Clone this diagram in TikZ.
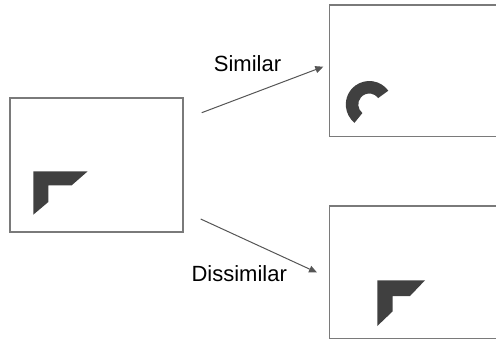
\documentclass[tikz,border=0pt]{standalone}
\usepackage{fontspec}
\setmainfont{Liberation Sans}
\usetikzlibrary{arrows.meta,calc}
\definecolor{frame}{HTML}{7A7A7A}
\definecolor{shape}{HTML}{404040}
\definecolor{link}{HTML}{555555}
\tikzset{
  panel/.style={draw=frame, line width=1.2bp},
  glyph/.style={fill=shape, draw=none},
  relation/.style={draw=link, line width=1bp, -{Triangle[length=8bp,width=7bp]}},
  tag/.style={anchor=base, inner sep=0pt, font=\fontsize{22bp}{26bp}\selectfont}
}
\begin{document}
\begin{tikzpicture}[x=1bp, y=-1bp]
  \useasboundingbox (0,0) rectangle (496,341);
  \clip (0,0) rectangle (496,341);

  % query image
  \draw[panel] (10,98) rectangle (183,232);
  \coordinate (qbox) at (96.5,165);
  \fill[glyph] (33.3,171.3) -- (87.7,171.3) -- (71.7,185.3) -- (48.3,185.3)
               -- (48.3,202) -- (33.3,214.7) -- cycle;

  % similar candidate (runs past the right edge)
  \draw[panel] (329.3,5) rectangle (520,136.7);
  \coordinate (c) at (369.3,104.5);
  \fill[glyph] ($(c)+(-36:23.5)$) arc[start angle=-36, end angle=-231, radius=23.5]
               -- ($(c)+(-231:11)$) arc[start angle=-231, end angle=-36, radius=11] -- cycle;

  % dissimilar candidate (runs past the right edge)
  \draw[panel] (329.3,206) rectangle (520,338.3);
  \fill[glyph] (377.3,280.3) -- (425,280.3) -- (410,296) -- (392.7,296)
               -- (392.7,311.3) -- (377.3,326) -- cycle;

  % connectors
  \coordinate (s1) at (201.7,112.7);
  \coordinate (e1) at (323.3,66.7);
  \coordinate (s2) at (200.7,219);
  \coordinate (e2) at (317,272.5);
  \draw[relation] (s1) -- (e1);
  \draw[relation] (s2) -- (e2);

  \node[tag] (lsim) at (247.5,71) {Similar};
  \node[tag] (ldis) at (239.2,281) {Dissimilar};
\end{tikzpicture}
\end{document}
